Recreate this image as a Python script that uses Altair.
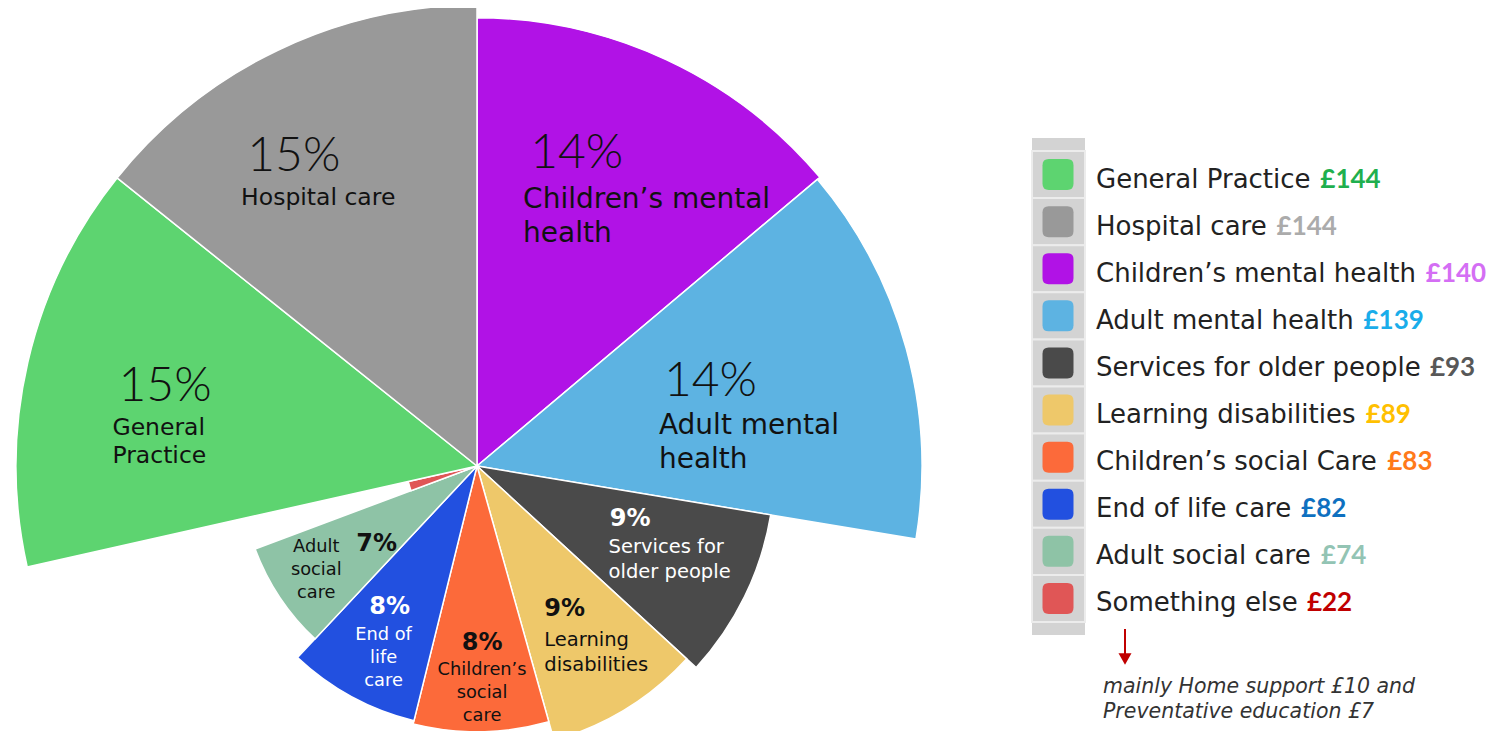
import math
import altair as alt
import pandas as pd

# ---------------- data ----------------
categories = [
    "General Practice", "Hospital care", "Children’s mental health",
    "Adult mental health", "Services for older people", "Learning disabilities",
    "Children’s social Care", "End of life care", "Adult social care", "Something else",
]
spend = [144, 144, 140, 139, 93, 89, 83, 82, 74, 22]
value_labels = ["£144", "£144", "£140", "£139", "£93", "£89", "£83", "£82", "£74", "£22"]
percent_labels = ["15%", "15%", "14%", "14%", "9%", "9%", "8%", "8%", "7%", ""]
slice_names = [
    "General\nPractice", "Hospital care", "Children’s mental\nhealth",
    "Adult mental\nhealth", "Services for\nolder people", "Learning\ndisabilities",
    "Children’s\nsocial\ncare", "End of\nlife\ncare", "Adult\nsocial\ncare", "",
]
slice_colors = ["#5DD470", "#999999", "#B112E6", "#5DB3E2", "#4A4A4A",
                "#EEC86A", "#FC6A3A", "#2250E0", "#8EC3A6", "#E05656"]
value_colors = ["#1FAF4E", "#ABABAB", "#D46EF4", "#1AADEA", "#585858",
                "#FFC000", "#FF7A1A", "#0E70C0", "#93C4B4", "#C00000"]
# clockwise from 12 o'clock
pie_order = [
    "Children’s mental health", "Adult mental health", "Services for older people",
    "Learning disabilities", "Children’s social Care", "End of life care",
    "Adult social care", "Something else", "General Practice", "Hospital care",
]
note_lines = ["mainly Home support £10 and", "Preventative education £7"]

# ---------------- layout ----------------
CX, CY = 469, 458          # pie centre in view pixels
R_MAX = 461                # radius of the largest wedge
TOTAL = sum(spend)
MAXV = max(spend)
LABEL_DY = -1

# label placement: (pct angle frac, pct radius frac, name angle frac, name radius frac, style, text colour)
label_layout = {
    "General Practice":        (0.444, 0.790, 0.396, 0.798, "bigA", "#111111"),
    "Hospital care":           (0.260, 0.810, 0.217, 0.793, "bigA", "#111111"),
    "Children’s mental health": (0.203, 0.674, 0.188, 0.631, "bigB", "#111111"),
    "Adult mental health":     (0.399, 0.448, 0.480, 0.426, "bigB", "#111111"),
    "Services for older people": (0.463, 0.491, 0.594, 0.506, "smallL", "#FFFFFF"),
    "Learning disabilities":   (0.736, 0.579, 0.798, 0.628, "smallL", "#111111"),
    "Children’s social Care":  (0.477, 0.696, 0.480, 0.737, "smallC", "#111111"),
    "End of life care":        (0.566, 0.657, 0.557, 0.708, "smallC", "#FFFFFF"),
    "Adult social care":       (0.234, 0.559, 0.847, 0.746, "smallC", "#111111"),
}

rows = []
cum = 0
for i, c in enumerate(pie_order):
    k = categories.index(c)
    v = spend[k]
    row = dict(cat=c, value=v, idx=i, start=cum)
    if c in label_layout:
        paf, prf, naf, nrf, style, tcol = label_layout[c]
        row.update(pth=cum + paf * v, pr=prf * v, nth=cum + naf * v, nr=nrf * v,
                   style=style, tcolor=tcol, pct=percent_labels[k], name=slice_names[k])
    rows.append(row)
    cum += v
pie_df = pd.DataFrame(rows)
lab_df = pie_df.dropna(subset=["style"])

# DejaVu Sans advance widths (em) for legend text measuring
W = {" ": .318, "A": .684, "C": .698, "E": .632, "G": .775, "H": .752, "L": .557,
     "P": .603, "S": .635, "a": .613, "b": .635, "c": .550, "d": .635, "e": .615,
     "f": .352, "g": .635, "h": .634, "i": .278, "l": .278, "m": .974, "n": .634,
     "o": .612, "p": .635, "r": .411, "s": .521, "t": .392, "u": .634, "v": .592,
     "y": .592, "’": .318}
LEG_FS = 26
LEG_X = 1088


def text_w(s, fs):
    return sum(W.get(ch, 0.6) for ch in s) * fs


leg_df = pd.DataFrame({
    "cat": categories,
    "vtext": value_labels,
    "vcolor": value_colors,
    "vx": [LEG_X + text_w(c + " ", LEG_FS) + 1 for c in categories],
})

theta_scale = alt.Scale(domain=[0, TOTAL], range=[0, 2 * math.pi])
r_scale = alt.Scale(type="linear", domain=[0, MAXV], range=[0, R_MAX])
color_scale = alt.Scale(domain=categories, range=slice_colors)

arcs = alt.Chart(pie_df).mark_arc(stroke="#FFFFFF", strokeWidth=1.5).encode(
    theta=alt.Theta("value:Q", stack=True, scale=theta_scale),
    radius=alt.Radius("value:Q", scale=r_scale),
    color=alt.Color("cat:N", scale=color_scale, legend=None),
    order=alt.Order("idx:Q"),
    x=alt.value(CX), y=alt.value(CY),
)


def label_layer(styles, th, r, field, font, size, weight, align, baseline, lh=None):
    sub = lab_df[lab_df["style"].isin(styles)]
    kw = dict(font=font, fontSize=size, fontWeight=weight, align=align,
              baseline=baseline, lineBreak="\n", dy=LABEL_DY)
    if lh:
        kw["lineHeight"] = lh
    return alt.Chart(sub).mark_text(**kw).encode(
        theta=alt.Theta(th + ":Q", stack=False, scale=theta_scale),
        radius=alt.Radius(r + ":Q", scale=r_scale),
        text=alt.Text(field + ":N"),
        fill=alt.Fill("tcolor:N", scale=None),
        x=alt.value(CX), y=alt.value(CY),
    )


labels = [
    label_layer(["bigA", "bigB"], "pth", "pr", "pct", "Lato", 48, 300, "left", "alphabetic"),
    label_layer(["smallL"], "pth", "pr", "pct", "DejaVu Sans", 24, "bold", "left", "alphabetic"),
    label_layer(["smallC"], "pth", "pr", "pct", "DejaVu Sans", 24, "bold", "center", "alphabetic"),
    label_layer(["bigA"], "nth", "nr", "name", "DejaVu Sans", 23.5, "normal", "left", "top", 28),
    label_layer(["bigB"], "nth", "nr", "name", "DejaVu Sans", 28, "normal", "left", "top", 34),
    label_layer(["smallL"], "nth", "nr", "name", "DejaVu Sans", 19.5, "normal", "left", "top", 25),
    label_layer(["smallC"], "nth", "nr", "name", "DejaVu Sans", 17.8, "normal", "center", "top", 23),
]

# ---------------- legend ----------------
leg_y = alt.Y("cat:N", axis=None,
              scale=alt.Scale(type="band", domain=categories, range=[143, 614],
                              paddingInner=0, paddingOuter=0))

leg_bg = alt.Chart(pd.DataFrame({"k": [0]})).mark_rect(fill="#D3D3D3").encode(
    x=alt.value(1024), x2=alt.value(1077), y=alt.value(130), y2=alt.value(627))

leg_rows = alt.Chart(leg_df).mark_rect(fill="#D3D3D3", stroke="#ECECEC", strokeWidth=2).encode(
    y=leg_y, x=alt.value(1024), x2=alt.value(1077))

rounded = ("M -0.6,-1 L 0.6,-1 Q 1,-1 1,-0.6 L 1,0.6 Q 1,1 0.6,1 L -0.6,1 "
           "Q -1,1 -1,0.6 L -1,-0.6 Q -1,-1 -0.6,-1 Z")
leg_sq = alt.Chart(leg_df).mark_point(shape=rounded, filled=True, size=961, opacity=1).encode(
    y=leg_y, x=alt.value(1050),
    color=alt.Color("cat:N", scale=color_scale, legend=None))

leg_names = alt.Chart(leg_df).mark_text(
    align="left", baseline="middle", dy=5, font="DejaVu Sans", fontSize=LEG_FS, fill="#222222"
).encode(y=leg_y, x=alt.value(LEG_X), text="cat:N")

leg_vals = alt.Chart(leg_df).mark_text(
    align="left", baseline="middle", dy=5, font="Lato", fontSize=26, fontWeight="bold"
).encode(y=leg_y, x=alt.X("vx:Q", scale=None, axis=None), text="vtext:N",
         fill=alt.Fill("vcolor:N", scale=None))

arrow_line = alt.Chart(pd.DataFrame({"k": [0]})).mark_rule(color="#C00000", strokeWidth=2).encode(
    x=alt.value(1117), y=alt.value(621), y2=alt.value(648))
arrow_head = alt.Chart(pd.DataFrame({"k": [0]})).mark_point(
    shape="triangle-down", filled=True, size=170, color="#C00000", opacity=1
).encode(x=alt.value(1117), y=alt.value(651))

note = alt.Chart(pd.DataFrame({"t": ["\n".join(note_lines)]})).mark_text(
    align="left", baseline="alphabetic", font="DejaVu Sans", fontStyle="italic",
    fontSize=20.5, lineHeight=25, lineBreak="\n", fill="#333333"
).encode(x=alt.value(1095), y=alt.value(685), text="t:N")

chart = alt.layer(
    arcs, *labels, leg_bg, leg_rows, leg_sq, leg_names, leg_vals, arrow_line, arrow_head, note
).properties(
    width=1480, height=723, padding=0, background="#FFFFFF",
    autosize=alt.AutoSizeParams(type="none"),
).configure_view(stroke=None)

chart.save("out.html", embed_options={"renderer": "svg", "actions": False})
